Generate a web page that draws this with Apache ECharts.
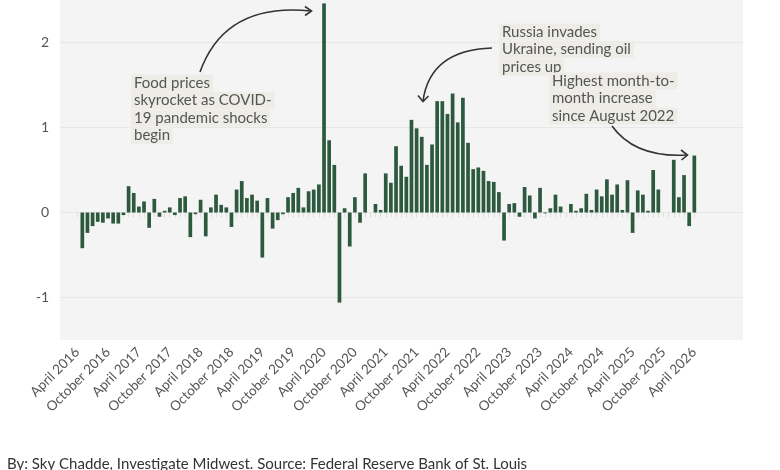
<!DOCTYPE html>
<html>
<head>
<meta charset="utf-8">
<script src="https://cdn.jsdelivr.net/npm/echarts@6/dist/echarts.min.js"></script>
<style>
  html, body { margin: 0; padding: 0; background: #fff; }
  #chart { width: 780px; height: 470px; }
</style>
</head>
<body>
<div id="chart"></div>
<script>
// month-to-month % change, April 2016 .. April 2026
var pct2016 = [null, -0.42, -0.24, -0.16, -0.11, -0.12, -0.07, -0.13, -0.13]; // Apr-Dec
var pct2017 = [-0.03, 0.31, 0.23, 0.07, 0.13, -0.18, 0.16, -0.05, 0.02, 0.06, -0.03, 0.17];
var pct2018 = [0.19, -0.29, -0.02, 0.15, -0.28, 0.06, 0.21, 0.09, 0.06, -0.17, 0.27, 0.37];
var pct2019 = [0.17, 0.21, 0.14, -0.53, 0.17, -0.19, -0.09, -0.02, 0.18, 0.23, 0.29, 0.06];
var pct2020 = [0.25, 0.27, 0.33, 2.46, 0.85, 0.56, -1.06, 0.05, -0.40, 0.18, -0.12, 0.46];
var pct2021 = [0, 0.10, 0.03, 0.46, 0.35, 0.78, 0.55, 0.42, 1.09, 0.99, 0.89, 0.56];
var pct2022 = [0.80, 1.31, 1.31, 1.16, 1.40, 1.06, 1.35, 0.82, 0.51, 0.53, 0.49, 0.37];
var pct2023 = [0.36, 0.24, -0.33, 0.10, 0.11, -0.05, 0.30, 0.20, -0.07, 0.29, -0.01, 0.05];
var pct2024 = [0.21, 0.07, 0, 0.10, 0.02, 0.05, 0.22, 0.03, 0.27, 0.19, 0.39, 0.21];
var pct2025 = [0.33, 0.03, 0.38, -0.24, 0.26, 0.21, 0.02, 0.50, 0.27, null, null, 0.62];
var pct2026 = [0.18, 0.44, -0.16, 0.67]; // Jan-Apr

var monthNames = ['January', 'February', 'March', 'April', 'May', 'June', 'July',
                  'August', 'September', 'October', 'November', 'December'];
var yTicks = [-1, 0, 1, 2];

var values = [].concat(pct2016, pct2017, pct2018, pct2019, pct2020, pct2021,
                       pct2022, pct2023, pct2024, pct2025, pct2026);
// first category is April 2016
var categories = values.map(function (v, i) {
    return monthNames[(3 + i) % 12] + ' ' + (2016 + Math.floor((3 + i) / 12));
});

var FONT = 'Lato';
var ink = '#333';

function note(lines, x, y) {
    return lines.map(function (t, k) {
        return {
            type: 'text', x: x, y: y + k * 17.5, z: 50,
            style: {
                text: t, font: '15px ' + FONT, fill: '#555',
                backgroundColor: '#edece7', padding: [1, 3, 1, 3],
                align: 'left', verticalAlign: 'middle'
            }
        };
    });
}
function curve(x1, y1, cx, cy, x2, y2) {
    return {
        type: 'bezierCurve', z: 50,
        shape: { x1: x1, y1: y1, cpx1: cx, cpy1: cy, x2: x2, y2: y2 },
        style: { stroke: ink, lineWidth: 1.6, fill: null }
    };
}
function head(pts) {
    return {
        type: 'polyline', z: 50,
        shape: { points: pts },
        style: { stroke: ink, lineWidth: 1.6, fill: null }
    };
}

var chart = echarts.init(document.getElementById('chart'));
var option = {
    animation: false,
    textStyle: { fontFamily: FONT },
    grid: [
        { left: 60, right: 37, top: 0, bottom: 130, show: true,
          backgroundColor: '#f4f4f4', borderWidth: 0 },
        { left: 74.6, right: 83.1, top: 0, bottom: 130 }
    ],
    xAxis: [
        { gridIndex: 0, type: 'value', min: 0, max: 1, show: false },
        {
            gridIndex: 1, type: 'category', data: categories,
            axisLine: { show: false },
            axisTick: { show: true, interval: 0, alignWithLabel: true, length: 5,
                        lineStyle: { color: '#dedede' } },
            axisLabel: { interval: 5, rotate: 45, margin: 10, color: '#555',
                         fontSize: 13.5, fontFamily: FONT }
        }
    ],
    yAxis: [
        {
            gridIndex: 0, type: 'value', min: -1.5, max: 2.5, interval: 0.5,
            axisLine: { show: false }, axisTick: { show: false },
            axisLabel: {
                color: '#555', fontSize: 14, margin: 11, fontFamily: FONT,
                formatter: function (v) {
                    return yTicks.indexOf(Math.round(v * 10) / 10) >= 0 ? String(v) : '';
                }
            },
            splitLine: { show: true, lineStyle: { color: ['transparent', '#e7e7e7'], width: 1 } }
        },
        { gridIndex: 1, type: 'value', min: -1.5, max: 2.5, show: false }
    ],
    series: [
        {
            type: 'bar', xAxisIndex: 1, yAxisIndex: 1,
            data: values, barCategoryGap: '28%',
            itemStyle: { color: '#2d5a3e' }
        }
    ],
    graphic: [].concat(
        note(['Food prices', 'skyrocket as COVID-', '19 pandemic shocks', 'begin'], 131, 83),
        note(['Russia invades', 'Ukraine, sending oil', 'prices up'], 499, 32),
        note(['Highest month-to-', 'month increase', 'since August 2022'], 549, 81),
        [
            curve(200, 72, 225, 2, 311, 11),
            head([[305, 6.5], [311.5, 11], [305, 15.5]]),
            curve(492, 48, 430, 50, 423, 101),
            head([[418, 95.5], [423, 101.5], [428.5, 96]]),
            curve(612, 126, 635, 158, 687, 155),
            head([[681, 150], [687.5, 155], [681.5, 160]]),
            {
                type: 'text', x: 7, y: 464,
                style: { text: 'By: Sky Chadde, Investigate Midwest. Source: Federal Reserve Bank of St. Louis',
                         font: '15px ' + FONT, fill: '#333', verticalAlign: 'middle' }
            }
        ]
    )
};
chart.setOption(option);
window.onresize = chart.resize;
</script>
</body>
</html>
